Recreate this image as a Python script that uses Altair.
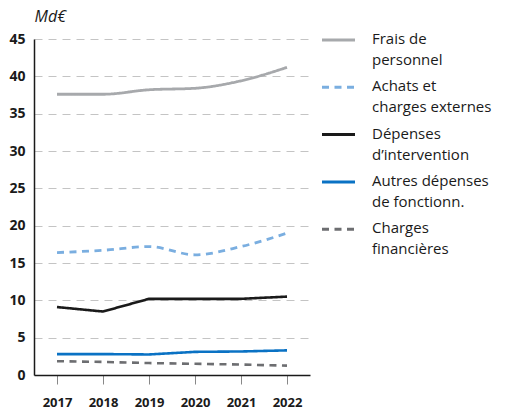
import altair as alt
import pandas as pd

years = ["2017", "2018", "2019", "2020", "2021", "2022"]
series = [
    "Frais de personnel",
    "Achats et charges externes",
    "Dépenses d’intervention",
    "Autres dépenses de fonctionn.",
    "Charges financières",
]
legend_lines = [
    ["Frais de", "personnel"],
    ["Achats et", "charges externes"],
    ["Dépenses", "d’intervention"],
    ["Autres dépenses", "de fonctionn."],
    ["Charges", "financières"],
]
frais = [37.6, 37.6, 38.2, 38.4, 39.4, 41.2]
achats = [16.4, 16.7, 17.2, 16.1, 17.2, 19.0]
depenses = [9.1, 8.5, 10.2, 10.2, 10.2, 10.5]
autres = [2.8, 2.8, 2.75, 3.1, 3.15, 3.3]
charges = [1.85, 1.75, 1.6, 1.5, 1.4, 1.25]
colors = ["#a7a9ac", "#7aaee0", "#1a1a1a", "#0a72c4", "#6d6e71"]
dashes = [[1, 0], [7, 5.5], [1, 0], [1, 0], [7, 5.5]]

rows = []
for name, vals in zip(series, [frais, achats, depenses, autres, charges]):
    for y, v in zip(years, vals):
        rows.append({"year": y, "value": v, "series": name})
df = pd.DataFrame(rows)

leg_df = pd.DataFrame(
    {"series": series, "idx": list(range(len(series))), "label": legend_lines}
)

FONT = "Open Sans"
INK = "#1a1a1a"

color = alt.Color("series:N", scale=alt.Scale(domain=series, range=colors), legend=None)
dash = alt.StrokeDash("series:N", scale=alt.Scale(domain=series, range=dashes), legend=None)

base = alt.Chart(df).encode(
    x=alt.X(
        "year:O",
        scale=alt.Scale(paddingOuter=0.5),
        axis=alt.Axis(
            title=None,
            labelAngle=0,
            labelFont=FONT,
            labelFontSize=13,
            labelFontWeight="bold",
            labelColor=INK,
            labelPadding=12,
            tickColor="#888888",
            tickSize=9,
            domainColor=INK,
            domainWidth=1.5,
            grid=False,
        ),
    ),
    y=alt.Y(
        "value:Q",
        scale=alt.Scale(domain=[0, 45]),
        axis=alt.Axis(
            title="Md€",
            titleAngle=0,
            titleAlign="left",
            titleBaseline="middle",
            titleX=0,
            titleY=-23,
            titleFont=FONT,
            titleFontSize=16,
            titleFontStyle="italic",
            titleFontWeight="normal",
            titleColor=INK,
            values=[0, 5, 10, 15, 20, 25, 30, 35, 40, 45],
            labelFont=FONT,
            labelFontSize=14,
            labelFontWeight="bold",
            labelColor=INK,
            labelPadding=9,
            ticks=False,
            domainColor=INK,
            domainWidth=1.5,
            gridColor="#c4c4c4",
            gridDash=[8, 6],
            gridWidth=1,
        ),
    ),
    color=color,
    strokeDash=dash,
)

smooth = base.transform_filter(
    alt.FieldOneOfPredicate(field="series", oneOf=series[:2])
).mark_line(strokeWidth=2.8, interpolate="monotone")
straight = base.transform_filter(
    alt.FieldOneOfPredicate(field="series", oneOf=series[2:])
).mark_line(strokeWidth=2.6)

plot = alt.layer(smooth, straight).properties(width=276, height=336)

leg_y = alt.Y("idx:Q", scale=alt.Scale(domain=[-0.02, 7.08], reverse=True), axis=None)
leg_base = alt.Chart(leg_df).encode(y=leg_y)
leg_sym = leg_base.mark_rule(strokeWidth=3).encode(
    x=alt.value(0),
    x2=alt.value(33),
    color=color,
    strokeDash=dash,
)
leg_txt = leg_base.mark_text(
    align="left",
    baseline="top",
    dy=-8,
    font=FONT,
    fontSize=15,
    lineHeight=21,
    color=INK,
).encode(x=alt.value(50), text="label")
legend = alt.layer(leg_sym, leg_txt).properties(width=160, height=336)

chart = (
    alt.hconcat(plot, legend, spacing=12, bounds="flush")
    .properties(padding=0)
    .configure_view(stroke=None)
)

chart.save("out.html", embed_options={"renderer": "svg", "actions": False})
